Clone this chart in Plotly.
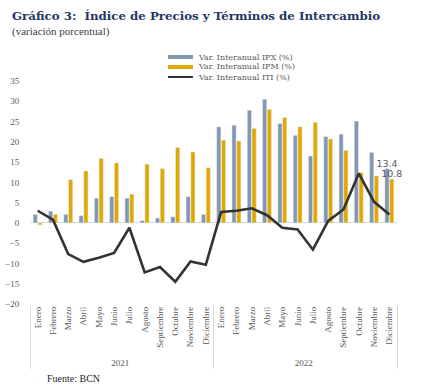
import plotly.graph_objects as go

years = ["2021"] * 12 + ["2022"] * 12
months = ["Enero", "Febrero", "Marzo", "Abril", "Mayo", "Junio", "Julio", "Agosto",
          "Septiembre", "Octubre", "Noviembre", "Diciembre"] * 2

ipx = [2.1, 2.9, 2.1, 1.8, 6.1, 6.5, 6.1, 0.6, 1.2, 1.5, 6.5, 2.1,
       23.7, 24.1, 27.8, 30.5, 24.5, 21.6, 16.5, 21.3, 21.9, 25.1, 17.4, 13.4]
ipm = [-0.5, 2.1, 10.7, 12.8, 15.9, 14.8, 7.1, 14.5, 13.4, 18.6, 17.5, 13.6,
       20.4, 20.2, 23.3, 28.0, 26.0, 23.7, 24.8, 20.7, 17.9, 12.4, 11.6, 10.8]
iti = [3.0, 0.8, -7.7, -9.6, -8.6, -7.4, -1.2, -12.2, -10.9, -14.5, -9.5, -10.3,
       2.7, 3.0, 3.6, 1.9, -1.2, -1.6, -6.6, 0.5, 3.3, 12.2, 5.2, 2.1]

names = ["Var. Interanual IPX (%)", "Var. Interanual IPM (%)", "Var. Interanual ITI (%)"]
c_ipx = "#8497B0"
c_ipm = "#E0A800"
c_iti = "#333333"
serif = "Liberation Serif"
gray = "#595959"

def last_label(vals):
    return [""] * (len(vals) - 1) + [f"{vals[-1]:.1f}"]

fig = go.Figure()
fig.add_trace(go.Bar(x=[years, months], y=ipx, name=names[0], marker_color=c_ipx,
                     text=last_label(ipx), textposition="outside", constraintext="none",
                     cliponaxis=False, textfont=dict(family="DejaVu Sans", size=9.5, color=gray)))
fig.add_trace(go.Bar(x=[years, months], y=ipm, name=names[1], marker_color=c_ipm,
                     text=last_label(ipm), textposition="outside", constraintext="none",
                     cliponaxis=False, textfont=dict(family="DejaVu Sans", size=9.5, color=gray)))
fig.add_trace(go.Scatter(x=[years, months], y=iti, name=names[2], mode="lines",
                         line=dict(color=c_iti, width=2.6)))

fig.update_layout(
    width=422, height=389,
    margin=dict(l=30, r=25, t=81, b=85, autoexpand=False),
    plot_bgcolor="white", paper_bgcolor="white",
    barmode="group", bargap=0.38, bargroupgap=0.12,
    font=dict(family=serif, size=9, color=gray),
    showlegend=False,
)
fig.update_yaxes(range=[-20, 35], dtick=5, showgrid=False, zeroline=True,
                 zerolinecolor="#d9d9d9", zerolinewidth=1, showline=False,
                 ticks="outside", ticklen=8, tickcolor="rgba(0,0,0,0)",
                 tickfont=dict(family=serif, size=9, color=gray))
fig.update_xaxes(type="multicategory", tickangle=-90, showgrid=False, showline=False,
                 showdividers=True, dividercolor="#d9d9d9", dividerwidth=1,
                 tickfont=dict(family=serif, size=9, color=gray))

# manual legend (compact rows like the reference)
leg_rows = [1.1076, 1.0628, 1.0179]
for nm, col, w, yy in [(names[0], c_ipx, 4, leg_rows[0]), (names[1], c_ipm, 4, leg_rows[1]),
                       (names[2], c_iti, 2, leg_rows[2])]:
    fig.add_shape(type="line", xref="paper", yref="paper", x0=0.376, x1=0.444, y0=yy, y1=yy,
                  line=dict(color=col, width=w))
    fig.add_annotation(xref="paper", yref="paper", x=0.452, y=yy, xanchor="left", yanchor="middle",
                       showarrow=False, text=nm,
                       font=dict(family="DejaVu Serif", size=8, color=gray))

fig.add_annotation(xref="paper", yref="paper", x=-0.0545, y=1.2915, xanchor="left", yanchor="middle",
                   showarrow=False,
                   text="<b>Gráfico 3:  Índice de Precios y Términos de Intercambio</b>",
                   font=dict(family="DejaVu Serif", size=11.8, color="#1F3864"))
fig.add_annotation(xref="paper", yref="paper", x=-0.0545, y=1.2242, xanchor="left", yanchor="middle",
                   showarrow=False, text="(variación porcentual)",
                   font=dict(family=serif, size=11, color="#404040"))
fig.add_annotation(xref="paper", yref="paper", x=0.0409, y=-0.336, xanchor="left", yanchor="middle",
                   showarrow=False, text="Fuente: BCN",
                   font=dict(family=serif, size=10, color="#262626"))

fig.write_html("out.html", config={"displayModeBar": False},
               post_script="document.body.style.margin='0';")
